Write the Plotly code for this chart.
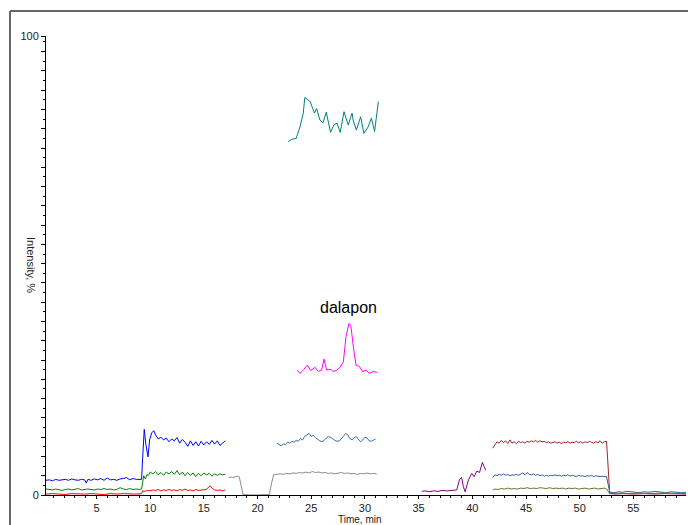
import plotly.graph_objects as go

# ---- data (time in min, intensity in %) ----
blue = [(0.3,3.2),(0.6,3.3),(0.9,3.1),(1.2,3.4),(1.5,3.2),(1.8,3.3),(2.1,3.4),(2.4,3.2),(2.7,3.5),(3.0,3.3),
        (3.3,3.2),(3.6,3.4),(3.9,3.3),(4.05,2.6),(4.2,3.4),(4.5,3.2),(4.8,3.5),(5.1,3.3),(5.4,3.6),(5.7,3.2),
        (6.0,3.7),(6.3,3.3),(6.6,3.4),(6.9,3.2),(7.2,3.5),(7.5,3.6),(7.8,3.8),(8.1,3.3),(8.4,3.6),(8.7,3.4),
        (9.0,3.5),(9.2,3.4),(9.3,8.0),(9.45,14.3),(9.6,11.0),(9.8,8.3),(9.95,12.0),(10.15,13.6),(10.35,14.0),
        (10.5,13.1),(10.75,12.2),(11.0,12.6),(11.25,12.0),(11.5,12.4),(11.75,11.6),(12.0,12.2),(12.25,11.8),
        (12.5,12.5),(12.75,11.3),(13.0,12.1),(13.25,11.5),(13.5,10.6),(13.75,11.8),(14.0,10.8),(14.25,11.6),
        (14.5,10.7),(14.75,11.7),(15.0,10.9),(15.25,11.6),(15.5,11.0),(15.75,11.9),(16.0,11.1),(16.25,11.8),
        (16.5,10.8),(16.75,11.3),(17.0,11.8)]

green = [(0.3,1.3),(0.6,1.2),(0.9,1.1),(1.2,1.3),(1.5,1.2),(1.8,1.0),(2.1,1.2),(2.4,1.3),(2.7,1.1),(3.0,1.2),
         (3.3,1.4),(3.6,1.1),(3.9,1.2),(4.2,1.3),(4.5,1.2),(4.8,1.1),(5.1,1.3),(5.4,1.2),(5.7,1.4),(6.0,1.2),
         (6.3,1.3),(6.6,1.1),(6.9,1.2),(7.2,1.6),(7.5,1.3),(7.8,1.2),(8.1,1.4),(8.4,1.2),(8.7,1.3),(9.0,1.2),
         (9.2,1.3),(9.3,3.0),(9.4,4.2),(9.55,3.5),(9.7,4.4),(9.85,4.3),(10.0,5.0),(10.25,4.6),(10.5,5.1),
         (10.75,4.4),(11.0,4.9),(11.25,4.3),(11.5,5.0),(11.75,4.6),(12.0,5.1),(12.25,4.5),(12.5,5.3),(12.75,4.4),
         (13.0,5.0),(13.25,4.2),(13.5,4.9),(13.75,4.3),(14.0,4.8),(14.25,4.0),(14.5,4.7),(14.75,4.2),(15.0,4.8),
         (15.25,4.4),(15.5,4.7),(15.75,4.1),(16.0,4.6),(16.25,4.3),(16.5,4.6),(16.75,4.4),(17.0,4.5)]

red = [(0.3,0.2),(0.9,0.3),(1.5,0.2),(2.1,0.1),(2.7,0.3),(3.3,0.2),(3.9,0.2),(4.5,0.3),(5.1,0.2),(5.7,0.1),
       (6.3,0.3),(6.9,0.2),(7.5,0.3),(8.1,0.2),(8.7,0.2),(9.2,0.3),(9.3,0.9),(9.5,0.8),(9.75,1.0),(10.0,0.9),
       (10.25,1.1),(10.5,1.0),(10.75,1.2),(11.0,0.9),(11.25,1.1),(11.5,1.0),(11.75,1.2),(12.0,1.0),(12.25,1.1),
       (12.5,0.9),(12.75,1.2),(13.0,1.0),(13.25,1.3),(13.5,1.0),(13.75,1.1),(14.0,0.9),(14.25,1.2),(14.5,1.0),
       (14.75,1.1),(15.0,1.1),(15.2,1.2),(15.4,1.6),(15.6,2.0),(15.8,1.4),(16.0,1.1),(16.25,1.0),(16.5,1.1),
       (16.75,0.9),(17.0,1.1)]

gray = [(17.3,3.8),(17.5,3.9),(17.7,3.8),(17.9,4.0),(18.1,4.1),(18.3,3.9),(18.5,1.5),(18.65,0.1),(19.5,0.0),
        (20.5,0.0),(21.1,0.1),(21.3,2.5),(21.5,4.4),(21.8,4.5),(22.1,4.6),(22.4,4.5),(22.7,4.7),(23.0,4.6),
        (23.3,4.8),(23.6,4.7),(23.9,4.9),(24.2,4.8),(24.5,5.0),(24.8,4.8),(25.1,5.1),(25.4,4.9),(25.7,5.0),
        (26.0,4.8),(26.3,4.9),(26.6,4.7),(26.9,4.8),(27.2,4.6),(27.5,4.8),(27.8,4.9),(28.1,4.7),(28.4,4.8),
        (28.7,4.6),(29.0,4.7),(29.3,4.5),(29.6,4.7),(29.9,4.6),(30.2,4.8),(30.5,4.6),(30.8,4.7),(31.1,4.6)]

steel = [(21.8,11.3),(22.0,10.9),(22.2,10.7),(22.4,11.1),(22.6,11.0),(22.8,11.5),(23.0,11.3),(23.2,11.7),
         (23.4,11.5),(23.6,11.9),(23.8,11.7),(24.0,12.3),(24.2,12.0),(24.4,12.8),(24.6,13.2),(24.8,13.4),
         (25.0,12.8),(25.2,13.0),(25.4,12.5),(25.6,12.1),(25.8,11.8),(26.0,11.6),(26.2,11.9),(26.4,12.4),
         (26.6,12.7),(26.8,12.6),(27.0,12.2),(27.2,11.9),(27.4,11.7),(27.6,11.8),(27.8,12.2),(28.0,12.8),
         (28.2,13.4),(28.4,13.1),(28.6,12.3),(28.8,12.0),(29.0,12.5),(29.2,12.7),(29.4,12.1),(29.6,11.6),
         (29.8,12.0),(30.0,12.6),(30.2,12.4),(30.4,11.8),(30.6,11.7),(30.8,12.0),(31.0,12.2)]

magenta = [(23.7,27.2),(23.95,26.5),(24.26,27.2),(24.63,28.3),(24.95,27.1),(25.35,27.8),(25.66,26.9),
           (25.97,27.2),(26.19,29.6),(26.44,27.2),(26.75,27.4),(27.06,26.9),(27.37,27.2),(27.68,27.8),
           (27.99,29.0),(28.24,34.5),(28.52,37.4),(28.70,36.7),(28.92,32.3),(29.17,28.3),(29.48,28.0),
           (29.79,26.9),(30.1,27.2),(30.41,26.5),(30.78,26.9),(31.15,26.7)]

teal = [(22.86,77.0),(23.2,77.5),(23.6,77.7),(23.95,80.2),(24.26,83.2),(24.4,86.6),(24.9,85.7),(25.3,83.2),
        (25.5,84.2),(25.8,81.7),(26.1,81.1),(26.4,83.4),(26.8,79.0),(27.1,80.6),(27.4,81.0),(27.7,79.0),
        (28.05,83.5),(28.45,80.6),(28.8,83.2),(28.9,81.7),(29.2,79.5),(29.6,82.4),(29.9,78.8),(30.3,80.2),
        (30.6,82.1),(30.9,79.2),(31.25,85.7)]

purple = [(35.3,0.8),(35.6,0.9),(36.0,0.7),(36.4,0.9),(36.8,0.8),(37.2,1.0),(37.6,0.9),(38.0,1.0),
          (38.3,1.1),(38.55,1.1),(38.8,3.3),(39.0,3.85),(39.17,1.8),(39.33,0.7),(39.64,3.3),(39.95,4.7),
          (40.17,4.0),(40.42,5.2),(40.67,4.9),(40.94,7.1),(41.1,6.2),(41.25,5.4)]

brown = [(41.9,10.2),(42.1,10.8),(42.3,11.6),(42.5,11.3),(42.7,11.9),(42.9,11.4),(43.1,11.8),(43.3,11.2),
         (43.5,12.0),(43.7,11.3),(43.9,11.6),(44.1,11.2),(44.3,11.7),(44.5,11.4),(44.7,11.6),(44.9,11.3),
         (45.1,11.7),(45.3,11.5),(45.5,11.8),(45.7,11.6),(45.9,11.9),(46.1,11.5),(46.3,11.8),(46.5,11.6),
         (46.7,11.7),(46.9,11.4),(47.1,11.6),(47.3,11.3),(47.5,11.5),(47.7,11.6),(47.9,11.3),(48.1,11.5),
         (48.3,11.2),(48.5,11.5),(48.7,11.4),(48.9,11.6),(49.1,11.3),(49.3,11.5),(49.5,11.4),(49.7,11.7),
         (49.9,11.4),(50.1,11.6),(50.3,11.3),(50.5,11.6),(50.7,11.4),(50.9,11.7),(51.1,11.5),(51.3,11.3),
         (51.5,11.6),(51.7,11.4),(51.9,11.8),(52.1,11.3),(52.3,11.6),(52.5,11.7),(52.8,0.3),(53.3,0.2),
         (54.0,0.3),(55.0,0.2),(56.0,0.3),(57.0,0.2),(58.0,0.3),(59.0,0.2),(59.9,0.2)]

navy = [(41.9,3.8),(42.1,4.4),(42.3,4.2),(42.5,4.5),(42.7,4.3),(42.9,4.6),(43.1,4.3),(43.3,4.5),(43.5,4.2),
        (43.7,4.4),(43.9,4.3),(44.1,4.5),(44.3,4.3),(44.5,4.6),(44.7,4.8),(44.9,4.4),(45.1,4.9),(45.3,4.5),
        (45.5,4.4),(45.7,4.6),(45.9,4.3),(46.1,4.5),(46.3,4.2),(46.5,4.4),(46.7,4.1),(46.9,4.3),(47.1,4.1),
        (47.3,4.3),(47.5,4.2),(47.7,4.4),(47.9,4.2),(48.1,4.3),(48.3,4.1),(48.5,4.3),(48.7,4.2),(48.9,4.4),
        (49.1,4.1),(49.3,4.3),(49.5,4.2),(49.7,4.0),(49.9,4.3),(50.1,4.1),(50.3,4.2),(50.5,4.0),(50.7,4.2),
        (50.9,4.1),(51.1,4.3),(51.3,4.0),(51.5,4.2),(51.7,4.1),(51.9,4.0),(52.1,4.1),(52.3,4.0),(52.5,4.0),
        (52.8,0.6),(53.2,0.5),(53.6,0.7),(54.0,0.6),(54.5,0.8),(55.0,0.6),(55.5,0.5),(56.0,0.7),(56.5,0.6),
        (57.0,0.8),(57.5,0.6),(58.0,0.5),(58.5,0.7),(59.0,0.6),(59.5,0.5),(59.9,0.6)]

olive = [(41.9,1.1),(42.1,1.3),(42.4,1.2),(42.7,1.4),(43.0,1.3),(43.3,1.5),(43.6,1.3),(43.9,1.4),(44.2,1.3),
         (44.5,1.5),(44.8,1.4),(45.1,1.6),(45.4,1.4),(45.7,1.5),(46.0,1.4),(46.3,1.6),(46.6,1.5),(46.9,1.4),
         (47.2,1.6),(47.5,1.4),(47.8,1.5),(48.1,1.4),(48.4,1.5),(48.7,1.3),(49.0,1.5),(49.3,1.4),(49.6,1.5),
         (49.9,1.3),(50.2,1.4),(50.5,1.5),(50.8,1.3),(51.1,1.4),(51.4,1.5),(51.7,1.3),(52.0,1.4),(52.3,1.5),
         (52.5,1.3),(52.8,0.3),(53.5,0.4),(54.5,0.3),(55.5,0.4),(56.5,0.3),(57.5,0.4),(58.5,0.3),(59.9,0.3)]

series = [
    (blue, "#0000FF"), (green, "#008000"), (red, "#FF0000"), (gray, "#8C8C8C"),
    (steel, "#3F6DB0"), (magenta, "#FF00FF"), (teal, "#008080"), (purple, "#800080"),
    (brown, "#A0282D"), (navy, "#2F5FA8"), (olive, "#617A2A"),
]

x_major_step = 5
x_minor_step = 1
y_major_step = 4.2
y_ticks = [round(y_major_step * k, 1) for k in range(24)] + [100]
y_text = ["0"] + [""] * 23 + ["100"]

fig = go.Figure()
for pts, col in series:
    fig.add_trace(go.Scatter(
        x=[p[0] for p in pts], y=[p[1] for p in pts], mode="lines",
        line=dict(color=col, width=1), hoverinfo="skip", showlegend=False))

W, H = 688, 525
L, R, T, B = 46, 2, 36, 30
pw, ph = W - L - R, H - T - B

def px_x(px):
    return (px - L) / pw

def px_y(py):
    return (H - B - py) / ph

fig.update_layout(
    width=W, height=H,
    margin=dict(l=L, r=R, t=T, b=B),
    paper_bgcolor="white", plot_bgcolor="white",
    font=dict(family="Liberation Sans, Arial, sans-serif", size=11, color="#222222"),
    showlegend=False,
    hovermode=False,
    xaxis=dict(
        range=[0.3, 59.9], showgrid=False, zeroline=False,
        showline=True, linecolor="black", linewidth=1,
        tickmode="linear", tick0=0, dtick=x_major_step,
        ticks="outside", ticklen=3, tickcolor="black", tickwidth=1,
        minor=dict(dtick=x_minor_step, tick0=0, ticks="outside", ticklen=2, tickcolor="black"),
        tickfont=dict(size=11, color="#222222"),
    ),
    yaxis=dict(
        range=[0, 100], showgrid=False, zeroline=False,
        showline=True, linecolor="black", linewidth=1,
        tickmode="array", tickvals=y_ticks, ticktext=y_text,
        ticks="outside", ticklen=4, tickcolor="black", tickwidth=1,
        minor=dict(dtick=y_major_step / 2, tick0=0, ticks="outside", ticklen=2, tickcolor="black"),
        tickfont=dict(size=11, color="#222222"),
    ),
    shapes=[
        dict(type="line", xref="paper", yref="paper",
             x0=px_x(10), y0=px_y(11), x1=px_x(700), y1=px_y(11),
             line=dict(color="#666666", width=2)),
        dict(type="line", xref="paper", yref="paper",
             x0=px_x(10), y0=px_y(11), x1=px_x(10), y1=px_y(540),
             line=dict(color="#666666", width=2)),
    ],
    annotations=[
        dict(text="dalapon", xref="x", yref="y", x=28.5, y=40.8, showarrow=False,
             font=dict(size=16, color="black"), xanchor="center", yanchor="middle"),
        dict(text="Intensity, %", xref="paper", yref="paper", x=px_x(31), y=px_y(265),
             showarrow=False, textangle=90, font=dict(size=11, color="#222222"),
             xanchor="center", yanchor="middle"),
        dict(text="Time, min", xref="paper", yref="paper", x=px_x(360), y=px_y(519),
             showarrow=False, font=dict(size=10, color="#222222"),
             xanchor="center", yanchor="middle"),
    ],
)

fig.write_html("out.html", config={"displayModeBar": False},
               post_script="document.body.style.margin='0';document.body.style.overflow='hidden';")
